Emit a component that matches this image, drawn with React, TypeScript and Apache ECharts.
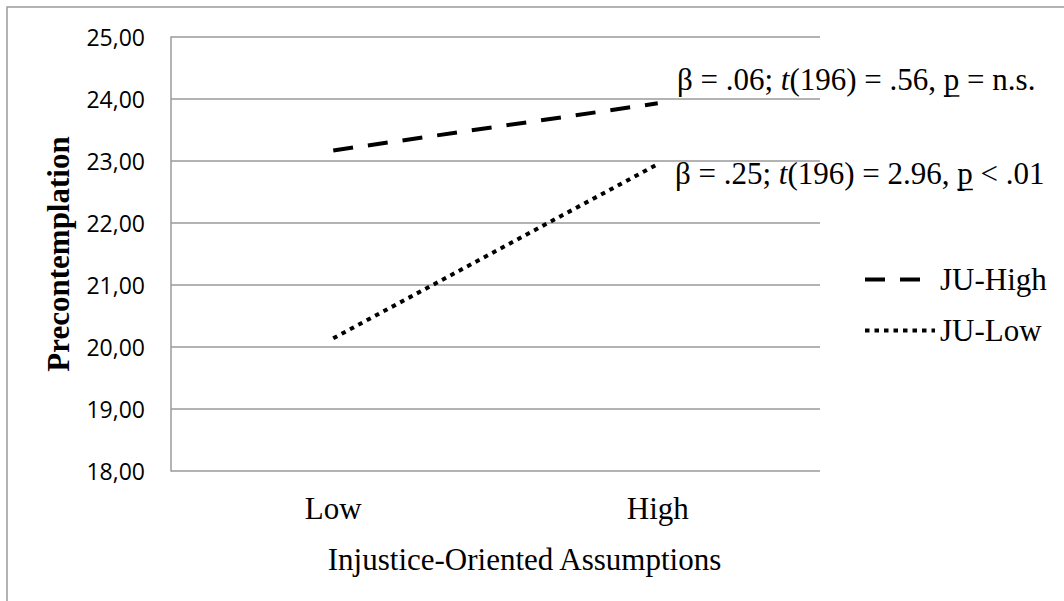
import React, { useEffect, useRef } from "react";
import * as echarts from "echarts";

const categories = ["Low", "High"];
const juHigh = [23.17, 23.93];
const juLow = [20.14, 22.95];
const seriesNames = ["JU-High", "JU-Low"];
const yMin = 18;
const yMax = 25;
const yInterval = 1;
const xTitle = "Injustice-Oriented Assumptions";
const yTitle = "Precontemplation";
const note1 = ["β = .06; ", "t", "(196) = .56, ", "p", " = n.s."];
const note2 = ["β = .25; ", "t", "(196) = 2.96, ", "p", " < .01"];

const SERIF = '"Liberation Serif", "Times New Roman", serif';
const SANS = '"Open Sans", "Noto Sans", sans-serif';
const FS = 31;
const GRID = "#9a9a9a";
const DASH = [20, 15];
const DOT = [4.5, 5];

function measure(text: string, italic = false): number {
  const c = document.createElement("canvas").getContext("2d");
  if (!c) return text.length * FS * 0.5;
  c.font = `${italic ? "italic " : ""}${FS}px ${SERIF}`;
  return c.measureText(text).width;
}

function noteGraphics(parts: string[], x: number, midY: number) {
  const rich = `{a|${parts[0]}}{i|${parts[1]}}{a|${parts[2]}}{a|${parts[3]}}{a|${parts[4]}}`;
  const ux0 = x + measure(parts[0]) + measure(parts[1], true) + measure(parts[2]);
  const ux1 = ux0 + measure(parts[3]);
  const base = midY + FS * 0.3375;
  return [
    {
      type: "text",
      x,
      y: midY,
      style: {
        text: rich,
        verticalAlign: "middle",
        align: "left",
        font: `${FS}px ${SERIF}`,
        fill: "#000",
        rich: {
          a: { fontFamily: SERIF, fontSize: FS, color: "#000" },
          i: { fontFamily: SERIF, fontSize: FS, fontStyle: "italic", color: "#000" },
        },
      },
    },
    {
      type: "line",
      shape: { x1: ux0, y1: base + 6, x2: ux1, y2: base + 6 },
      style: { stroke: "#000", lineWidth: 1.5 },
    },
  ];
}

export default function App() {
  const ref = useRef<HTMLDivElement>(null);
  useEffect(() => {
    document.body.style.margin = "0";
    if (!ref.current) return;
    const chart = echarts.init(ref.current, undefined, { renderer: "svg" });
    const option: any = {
      animation: false,
      backgroundColor: "#fff",
      grid: { left: 171, top: 37, width: 649, height: 434, containLabel: false },
      legend: {
        orient: "vertical",
        left: 858,
        top: 259,
        itemWidth: 70,
        itemHeight: 20,
        itemGap: 20,
        itemStyle: { opacity: 0 },
        lineStyle: { width: 4, color: "#000", cap: "butt" },
        textStyle: { fontFamily: SERIF, fontSize: FS, color: "#000" },
        data: [
          { name: seriesNames[0], lineStyle: { width: 4, type: DASH, color: "#000", cap: "butt" } },
          { name: seriesNames[1], lineStyle: { width: 4, type: DOT, color: "#000", cap: "butt" } },
        ],
      },
      xAxis: {
        type: "category",
        data: categories,
        boundaryGap: true,
        axisLine: { show: false },
        axisTick: { show: false },
        axisLabel: { fontFamily: SERIF, fontSize: FS, color: "#000", margin: 22 },
        name: xTitle,
        nameLocation: "middle",
        nameGap: 73,
        nameTextStyle: { fontFamily: SERIF, fontSize: FS, color: "#000", padding: [0, 0, 0, 58] },
      },
      yAxis: {
        type: "value",
        min: yMin,
        max: yMax,
        interval: yInterval,
        axisLine: { show: true, lineStyle: { color: GRID, width: 1.5 } },
        axisTick: { show: false },
        splitLine: { show: true, lineStyle: { color: GRID, width: 1.5 } },
        axisLabel: {
          fontFamily: SANS,
          fontSize: 23,
          color: "#000",
          margin: 26,
          formatter: (v: number) => v.toFixed(2).replace(".", ","),
        },
        name: yTitle,
        nameLocation: "middle",
        nameRotate: 90,
        nameGap: 97,
        nameTextStyle: { fontFamily: SERIF, fontSize: FS, fontWeight: "bold", color: "#000" },
      },
      series: [
        {
          name: seriesNames[0],
          type: "line",
          data: juHigh,
          symbol: "none",
          lineStyle: { color: "#000", width: 4, type: DASH, cap: "butt" },
          itemStyle: { color: "#000" },
        },
        {
          name: seriesNames[1],
          type: "line",
          data: juLow,
          symbol: "none",
          lineStyle: { color: "#000", width: 4, type: DOT, cap: "butt" },
          itemStyle: { color: "#000" },
        },
      ],
      graphic: [
        {
          type: "rect",
          shape: { x: 7, y: 7, width: 1100, height: 650 },
          style: { fill: "none", stroke: GRID, lineWidth: 1.5 },
          silent: true,
        },
        ...noteGraphics(note1, 677, 79.5),
        ...noteGraphics(note2, 675, 173),
      ],
    };
    chart.setOption(option);
    return () => chart.dispose();
  }, []);
  return <div ref={ref} style={{ width: 1064, height: 601 }} />;
}
